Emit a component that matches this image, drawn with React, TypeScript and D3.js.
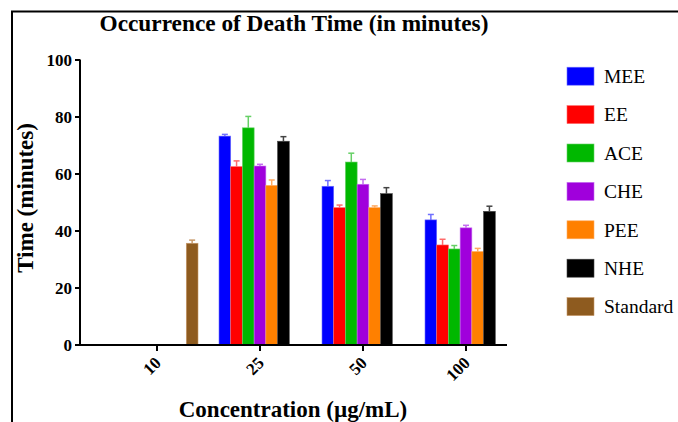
import React from "react";
import * as d3 from "d3";

const concentrations = ["10", "25", "50", "100"];
const seriesNames = ["MEE", "EE", "ACE", "CHE", "PEE", "NHE", "Standard"];
const seriesColors = ["#0000ff", "#ff0000", "#00b800", "#a000dc", "#ff8000", "#000000", "#8e5b1f"];
const errColors = ["#7070ff", "#ff6a6a", "#66d066", "#c46cf0", "#ffaa60", "#444444", "#c8996a"];
// values per series, per concentration (null = no bar)
const MEE = [null, 73.3, 55.7, 43.9];
const EE = [null, 62.6, 48.2, 35.1];
const ACE = [null, 76.2, 64.2, 33.7];
const CHE = [null, 62.8, 56.4, 41.1];
const PEE = [null, 56.0, 48.2, 32.8];
const NHE = [null, 71.5, 53.1, 46.9];
const Standard = [35.7, null, null, null];
const MEE_err = [0, 0.6, 2.0, 1.9];
const EE_err = [0, 2.0, 0.9, 2.0];
const ACE_err = [0, 4.0, 3.1, 1.2];
const CHE_err = [0, 0.6, 1.7, 0.9];
const PEE_err = [0, 1.9, 0.6, 1.1];
const NHE_err = [0, 1.6, 2.1, 1.8];
const Standard_err = [1.1, 0, 0, 0];
const yTicks = [0, 20, 40, 60, 80, 100];

const seriesValues = [MEE, EE, ACE, CHE, PEE, NHE, Standard];
const seriesErrs = [MEE_err, EE_err, ACE_err, CHE_err, PEE_err, NHE_err, Standard_err];

const FONT = "'Liberation Serif', 'Times New Roman', serif";

export default function App() {
  const y = d3.scaleLinear().domain([0, 100]).range([345, 60]);
  const xc = d3.scalePoint<string>().domain(concentrations).range([157, 466]);
  const xs = d3.scaleBand<string>().domain(seriesNames).range([-41, 41]).padding(0);
  const bw = xs.bandwidth();

  return (
    <svg
      width={678}
      height={422}
      style={{ position: "fixed", left: 0, top: 0, background: "#fff" }}
      fontFamily={FONT}
    >
      <rect x={0} y={0} width={678} height={422} fill="#fff" />
      {/* frame */}
      <line x1={11} y1={11.5} x2={678} y2={11.5} stroke="#000" strokeWidth={2} />
      <line x1={12} y1={11} x2={12} y2={422} stroke="#000" strokeWidth={2} />

      {/* title */}
      <text x={294} y={31} textAnchor="middle" fontSize={23.3} fontWeight="bold">
        Occurrence of Death Time (in minutes)
      </text>

      {/* bars */}
      {seriesNames.map((s, si) =>
        concentrations.map((c, ci) => {
          const v = seriesValues[si][ci];
          if (v == null) return null;
          const e = seriesErrs[si][ci];
          const x0 = (xc(c) as number) + (xs(s) as number);
          const cx = x0 + bw / 2;
          return (
            <g key={s + c}>
              {e > 0 && (
                <g stroke={errColors[si]} strokeWidth={1.5}>
                  <line x1={cx} x2={cx} y1={y(v)} y2={y(v + e)} />
                  <line x1={cx - 3} x2={cx + 3} y1={y(v + e)} y2={y(v + e)} />
                </g>
              )}
              <rect
                x={x0}
                y={y(v)}
                width={bw}
                height={y(0) - y(v)}
                fill={seriesColors[si]}
                stroke={errColors[si]}
                strokeWidth={0.6}
              />
            </g>
          );
        })
      )}

      {/* y axis */}
      <line x1={80} x2={80} y1={y(100) - 0.5} y2={y(0) + 1} stroke="#000" strokeWidth={2} />
      {yTicks.map((t) => (
        <g key={t}>
          <line x1={75} x2={80} y1={y(t)} y2={y(t)} stroke="#000" strokeWidth={2} />
          <text x={72} y={y(t)} dy="0.35em" textAnchor="end" fontSize={17} fontWeight="bold">
            {t}
          </text>
        </g>
      ))}
      <text
        transform={`translate(33,198) rotate(-90)`}
        textAnchor="middle"
        fontSize={23}
        fontWeight="bold"
      >
        Time (minutes)
      </text>

      {/* x axis */}
      <line x1={79} x2={507} y1={y(0)} y2={y(0)} stroke="#000" strokeWidth={2} />
      {concentrations.map((c) => {
        const cx = xc(c) as number;
        return (
          <g key={c}>
            <line x1={cx} x2={cx} y1={y(0)} y2={y(0) + 6} stroke="#000" strokeWidth={2} />
            <text
              transform={`translate(${cx + 5},${y(0) + 19}) rotate(-45)`}
              textAnchor="end"
              fontSize={17}
              fontWeight="bold"
            >
              {c}
            </text>
          </g>
        );
      })}
      <text x={293} y={417} textAnchor="middle" fontSize={23} fontWeight="bold">
        Concentration (µg/mL)
      </text>

      {/* legend */}
      {seriesNames.map((s, i) => {
        const cy = 76.2 + i * 38.4;
        return (
          <g key={s}>
            <rect x={567} y={cy - 9} width={27} height={18} fill={seriesColors[i]} stroke={errColors[i]} strokeWidth={0.6} />
            <text x={604} y={cy} dy="0.35em" fontSize={19.5}>
              {s}
            </text>
          </g>
        );
      })}
    </svg>
  );
}
